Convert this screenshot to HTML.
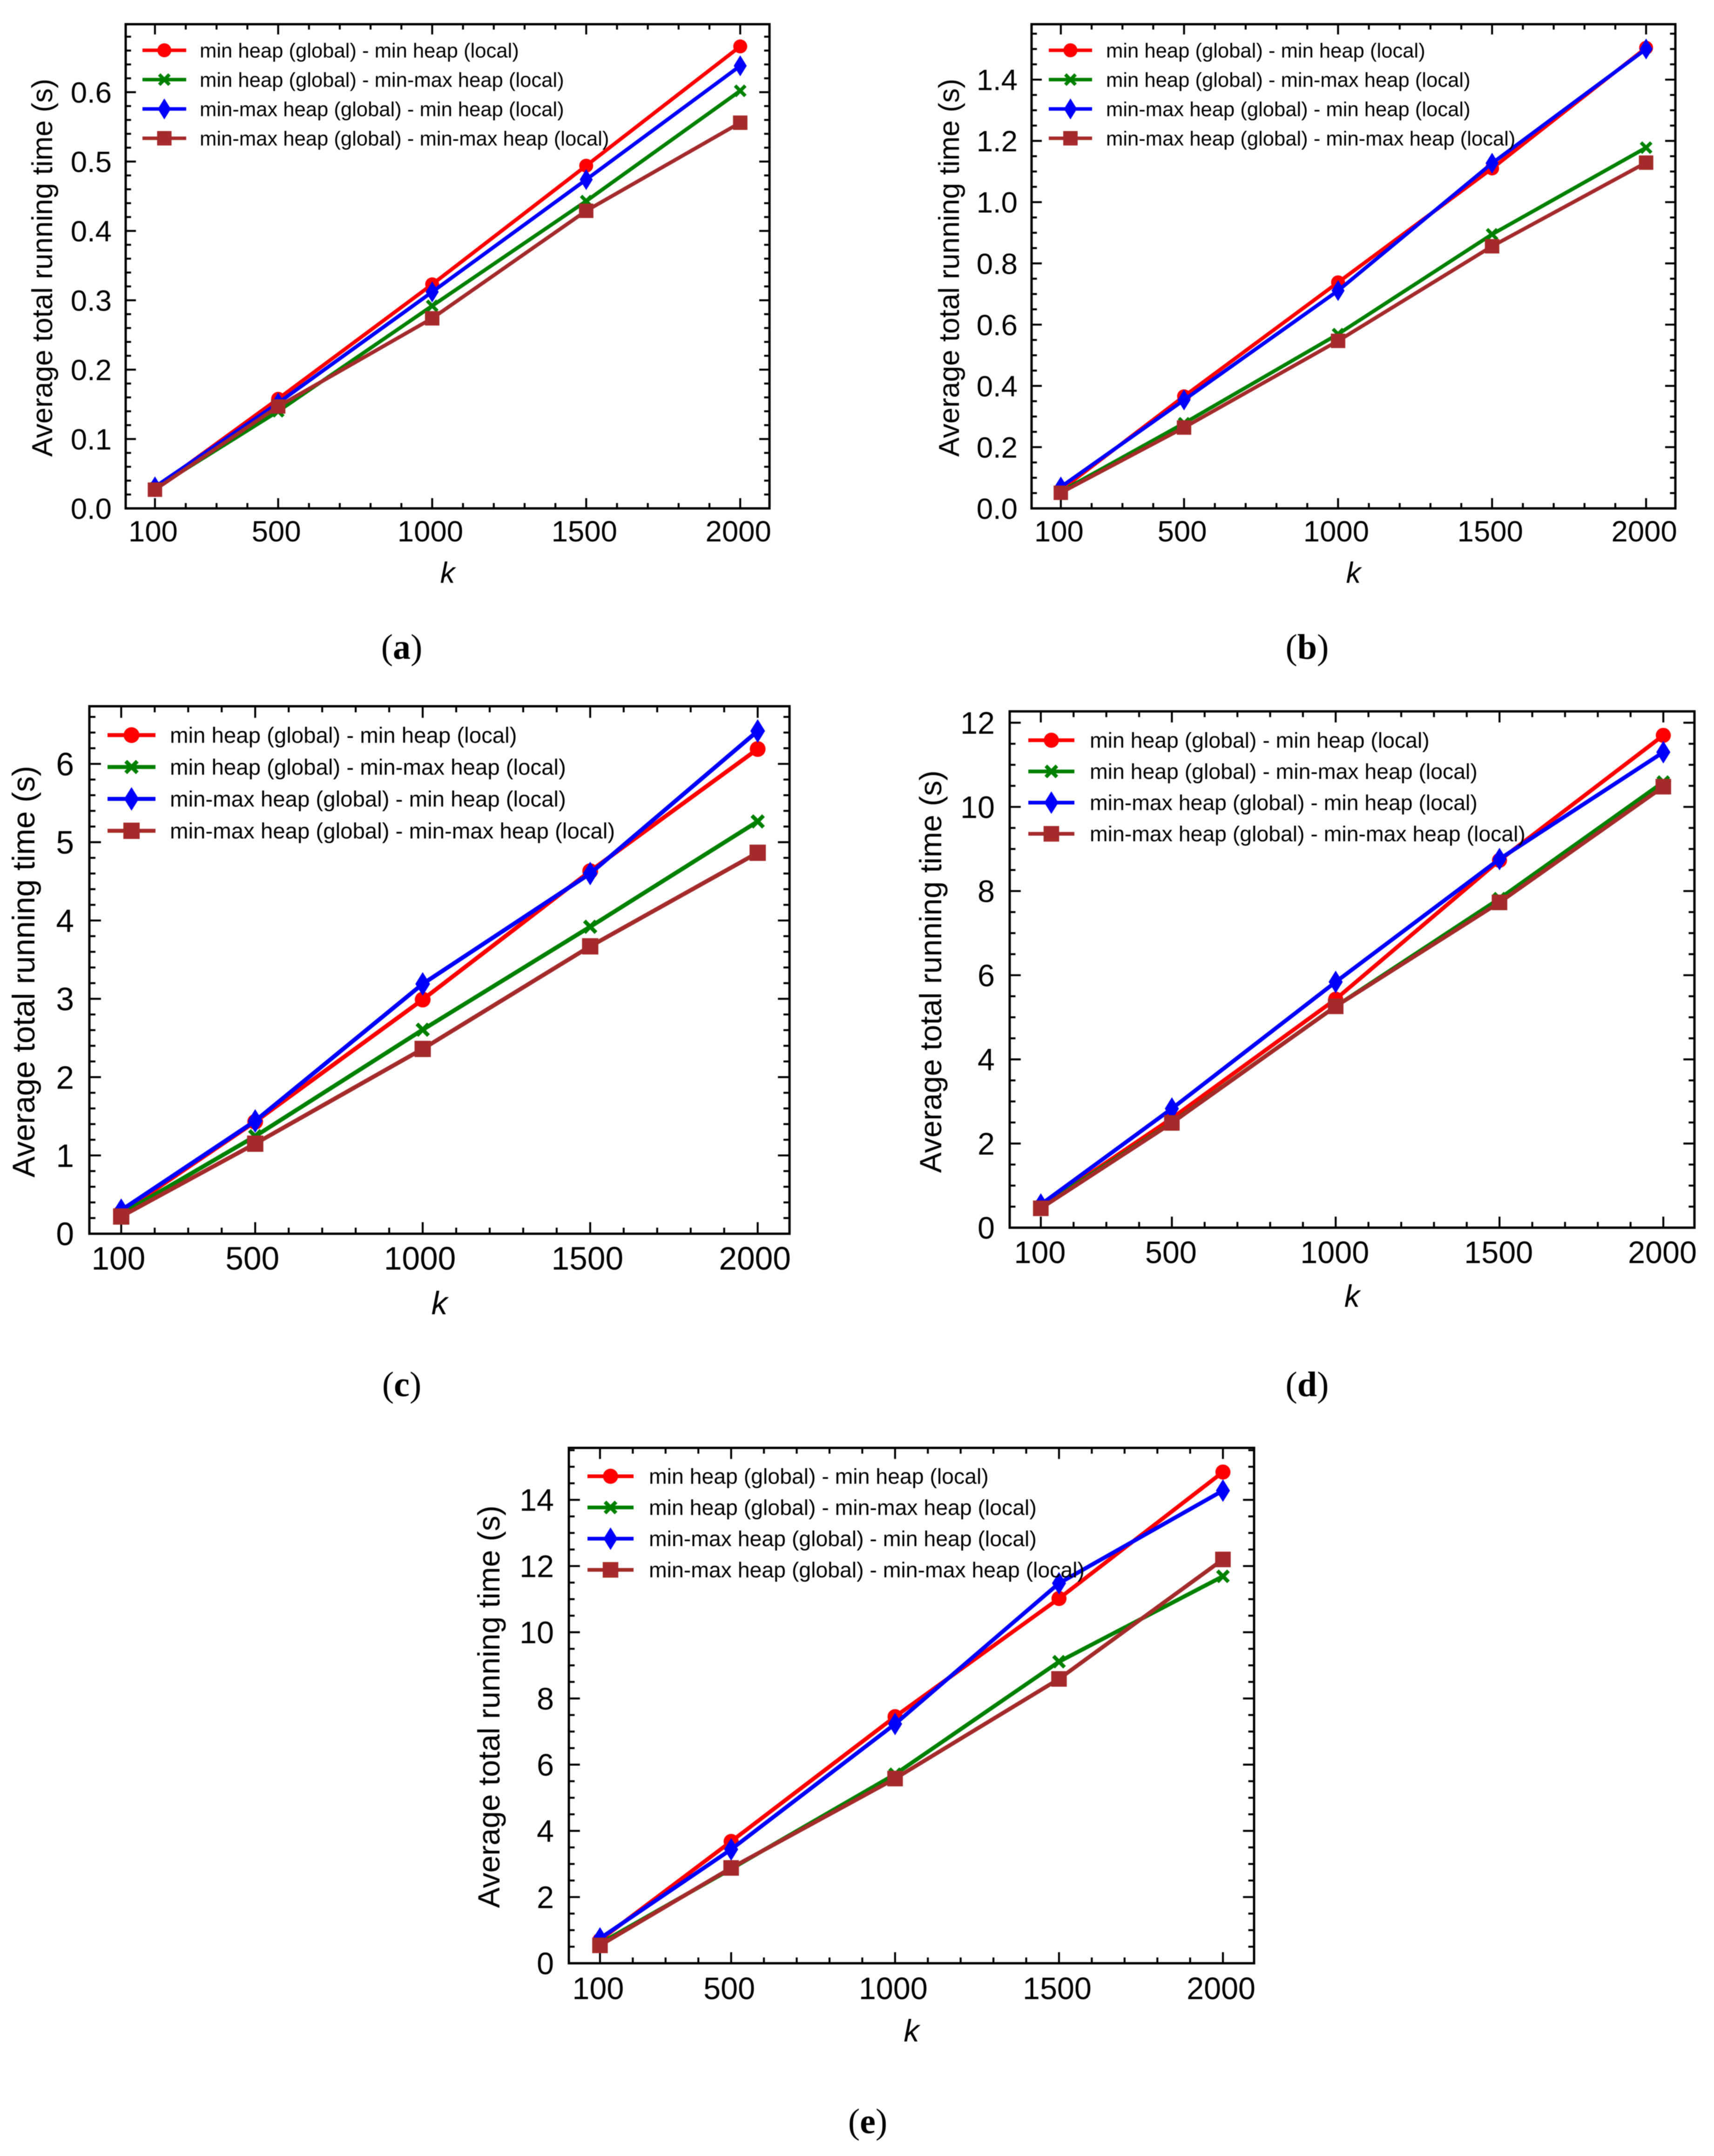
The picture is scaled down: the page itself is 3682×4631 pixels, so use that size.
<!DOCTYPE html>
<html lang="en">
<head>
<meta charset="utf-8">
<title>Average total running time versus k</title>
<style>
html,body{margin:0;padding:0;background:#fff;}
#figure{display:block;width:3682px;height:4631px;background:#fff;font-family:"Liberation Sans",sans-serif;filter:blur(0.9px);}
</style>
</head>
<body>
<svg id="figure" xmlns="http://www.w3.org/2000/svg" width="3682" height="4631" viewBox="0 0 3682 4631"></svg>
<script>
const kCategories = [100, 500, 1000, 1500, 2000];
const xTickLabels = ['100', '500', '1000', '1500', '2000'];
const seriesLabels = [
  'min heap (global) - min heap (local)',
  'min heap (global) - min-max heap (local)',
  'min-max heap (global) - min heap (local)',
  'min-max heap (global) - min-max heap (local)'
];

const panelAMinMin = [0.029, 0.158, 0.323, 0.494, 0.666];
const panelAMinMinmax = [0.029, 0.140, 0.292, 0.443, 0.602];
const panelAMinmaxMin = [0.031, 0.152, 0.312, 0.474, 0.638];
const panelAMinmaxMinmax = [0.027, 0.147, 0.274, 0.429, 0.556];
const panelAYTicks = ['0.0', '0.1', '0.2', '0.3', '0.4', '0.5', '0.6'];

const panelBMinMin = [0.060, 0.366, 0.738, 1.110, 1.504];
const panelBMinMinmax = [0.055, 0.278, 0.569, 0.895, 1.178];
const panelBMinmaxMin = [0.070, 0.354, 0.711, 1.127, 1.500];
const panelBMinmaxMinmax = [0.051, 0.264, 0.547, 0.856, 1.129];
const panelBYTicks = ['0.0', '0.2', '0.4', '0.6', '0.8', '1.0', '1.2', '1.4'];

const panelCMinMin = [0.27, 1.43, 2.99, 4.63, 6.19];
const panelCMinMinmax = [0.25, 1.245, 2.605, 3.92, 5.265];
const panelCMinmaxMin = [0.30, 1.44, 3.19, 4.60, 6.42];
const panelCMinmaxMinmax = [0.22, 1.15, 2.36, 3.67, 4.865];
const panelCYTicks = ['0', '1', '2', '3', '4', '5', '6'];

const panelDMinMin = [0.50, 2.60, 5.43, 8.73, 11.70];
const panelDMinMinmax = [0.50, 2.50, 5.26, 7.82, 10.59];
const panelDMinmaxMin = [0.55, 2.83, 5.84, 8.76, 11.30];
const panelDMinmaxMinmax = [0.46, 2.49, 5.26, 7.73, 10.48];
const panelDYTicks = ['0', '2', '4', '6', '8', '10', '12'];

const panelEMinMin = [0.70, 3.68, 7.45, 11.02, 14.84];
const panelEMinMinmax = [0.60, 2.85, 5.71, 9.11, 11.69];
const panelEMinmaxMin = [0.75, 3.44, 7.23, 11.48, 14.28];
const panelEMinmaxMinmax = [0.54, 2.88, 5.58, 8.59, 12.20];
const panelEYTicks = ['0', '2', '4', '6', '8', '10', '12', '14'];

const seriesColors = ['#ff0000', '#008000', '#0000ff', '#a52a2a'];
const seriesMarkers = ['circle', 'x', 'diamond', 'square'];

const panels = [
  {id: 'a', left: 270, right: 1653, top: 52, bottom: 1092, yMax: 0.698, yStep: 0.1, yMinor: 0.02,
   yTicks: panelAYTicks, series: [panelAMinMin, panelAMinMinmax, panelAMinmaxMin, panelAMinmaxMinmax],
   tickFont: 63.5, titleFont: 62, titleX: 112, titleY: 575, xLabelOffset: 71, xLabelShift: -4, kY: 1252, tickPad: 30,
   legendFont: 43.6, legendX1: 306, legendX2: 400, legendTextX: 429, legendY: 108, legendStep: 63,
   scale: 1, captionX: 863, captionY: 1415},
  {id: 'b', left: 2216, right: 3599, top: 52, bottom: 1092, yMax: 1.581, yStep: 0.2, yMinor: 0.05,
   yTicks: panelBYTicks, series: [panelBMinMin, panelBMinMinmax, panelBMinmaxMin, panelBMinmaxMinmax],
   tickFont: 63.5, titleFont: 62, titleX: 2060, titleY: 575, xLabelOffset: 71, xLabelShift: -4, kY: 1252, tickPad: 30,
   legendFont: 43.6, legendX1: 2253, legendX2: 2346, legendTextX: 2376, legendY: 108, legendStep: 63,
   scale: 1, captionX: 2808, captionY: 1415},
  {id: 'c', left: 192, right: 1696, top: 1517, bottom: 2650, yMax: 6.736, yStep: 1, yMinor: 0.2,
   yTicks: panelCYTicks, series: [panelCMinMin, panelCMinMinmax, panelCMinmaxMin, panelCMinmaxMinmax],
   tickFont: 69.5, titleFont: 67.5, titleX: 74, titleY: 2087, xLabelOffset: 77, xLabelShift: -6, kY: 2823, tickPad: 33,
   legendFont: 47.4, legendX1: 231, legendX2: 334, legendTextX: 365, legendY: 1579, legendStep: 68.5,
   scale: 1.13, captionX: 863, captionY: 2999},
  {id: 'd', left: 2169, right: 3640, top: 1528, bottom: 2637, yMax: 12.27, yStep: 2, yMinor: 0.5,
   yTicks: panelDYTicks, series: [panelDMinMin, panelDMinMinmax, panelDMinmaxMin, panelDMinmaxMinmax],
   tickFont: 66.5, titleFont: 66, titleX: 2022, titleY: 2087, xLabelOffset: 76, xLabelShift: -2, kY: 2807, tickPad: 32,
   legendFont: 46.4, legendX1: 2209, legendX2: 2308, legendTextX: 2341, legendY: 1590, legendStep: 67,
   scale: 1.08, captionX: 2808, captionY: 2999},
  {id: 'e', left: 1222, right: 2694, top: 3110, bottom: 4217, yMax: 15.57, yStep: 2, yMinor: 0.5,
   yTicks: panelEYTicks, series: [panelEMinMin, panelEMinMinmax, panelEMinmaxMin, panelEMinmaxMinmax],
   tickFont: 66.5, titleFont: 66, titleX: 1073, titleY: 3666, xLabelOffset: 77, xLabelShift: -4, kY: 4385, tickPad: 32,
   legendFont: 46.4, legendX1: 1262, legendX2: 1361, legendTextX: 1394, legendY: 3171, legendStep: 67,
   scale: 1.08, captionX: 1864, captionY: 4582}
];

const xDomainMin = 5;
const xDomainMax = 2095;
const xMinorStep = 100;
const NS = 'http://www.w3.org/2000/svg';
const figure = document.getElementById('figure');

function make(tag, attrs, parent) {
  const node = document.createElementNS(NS, tag);
  for (const key in attrs) node.setAttribute(key, attrs[key]);
  parent.appendChild(node);
  return node;
}

function xAxis(p, k) {
  return p.left + (k - xDomainMin) * (p.right - p.left) / (xDomainMax - xDomainMin);
}

function yAxis(p, v) {
  return p.bottom - v * (p.bottom - p.top) / p.yMax;
}

function drawMarker(type, cx, cy, color, s, parent) {
  let el;
  if (type === 'circle') {
    el = make('circle', {cx: cx, cy: cy, r: 15 * s, fill: color}, parent);
    
    
  } else if (type === 'square') {
    const h = 15.5 * s;
    el = make('rect', {x: cx - h, y: cy - h, width: 2 * h, height: 2 * h, fill: color}, parent);
    
    
  } else if (type === 'diamond') {
    const w = 14 * s, h = 22.5 * s;
    el = make('polygon', {points: [cx, cy - h, cx + w, cy, cx, cy + h, cx - w, cy].join(' '), fill: color}, parent);
    
    
  } else {
    const h = 11 * s;
    const d = ['M', cx - h, cy - h, 'L', cx + h, cy + h, 'M', cx - h, cy + h, 'L', cx + h, cy - h].join(' ');
    el = make('path', {d: d, stroke: color, 'stroke-width': 7.5 * s, fill: 'none'}, parent);
    
    
  }
}

function drawTickPair(p, group, isX, pos, len) {
  const w = 4.2;
  const coords = isX
    ? [[pos, p.bottom, pos, p.bottom - len], [pos, p.top, pos, p.top + len]]
    : [[p.left, pos, p.left + len, pos], [p.right, pos, p.right - len, pos]];
  coords.forEach(function (c) {
    const t = make('line', {x1: c[0], y1: c[1], x2: c[2], y2: c[3], stroke: '#000', 'stroke-width': w}, group);
    
    
  });
}

panels.forEach(function (p) {
  const panel = make('g', {}, figure);
  
  

  const ticks = make('g', {}, panel);
  
  

  const majorLen = 22 * p.scale;
  const minorLen = 11.5 * p.scale;

  for (let k = 100; k <= 2000; k += xMinorStep) {
    const isMajor = kCategories.indexOf(k) >= 0;
    drawTickPair(p, ticks, true, xAxis(p, k), isMajor ? majorLen : minorLen);
  }
  const minorCount = Math.floor(p.yMax / p.yMinor + 1e-6);
  const perMajor = Math.round(p.yStep / p.yMinor);
  for (let i = 0; i <= minorCount; i++) {
    drawTickPair(p, ticks, false, yAxis(p, i * p.yMinor), i % perMajor === 0 ? majorLen : minorLen);
  }

  kCategories.forEach(function (k, i) {
    const t = make('text', {x: xAxis(p, k) + p.xLabelShift, y: p.bottom + p.xLabelOffset, 'text-anchor': 'middle', 'font-size': p.tickFont, fill: '#000'}, panel);
    t.textContent = xTickLabels[i];
    
    
  });

  p.yTicks.forEach(function (label) {
    const y = yAxis(p, parseFloat(label)) + 0.355 * p.tickFont;
    const t = make('text', {x: p.left - p.tickPad, y: y, 'text-anchor': 'end', 'font-size': p.tickFont, fill: '#000'}, panel);
    t.textContent = label;
    
    
  });

  const yTitle = make('text', {x: p.titleX, y: p.titleY, 'text-anchor': 'middle', 'font-size': p.titleFont, fill: '#000',
    transform: 'rotate(-90 ' + p.titleX + ' ' + p.titleY + ')'}, panel);
  yTitle.textContent = 'Average total running time (s)';
  
  

  const xTitle = make('text', {x: (p.left + p.right) / 2, y: p.kY, 'text-anchor': 'middle', 'font-size': p.tickFont, 'font-style': 'italic', fill: '#000'}, panel);
  xTitle.textContent = 'k';
  
  

  p.series.forEach(function (values, s) {
    const g = make('g', {}, panel);
    
    
    const pts = values.map(function (v, i) {
      return xAxis(p, kCategories[i]) + ',' + yAxis(p, v);
    }).join(' ');
    const line = make('polyline', {points: pts, fill: 'none', stroke: seriesColors[s], 'stroke-width': 8 * p.scale, 'stroke-linejoin': 'round'}, g);
    
    
    values.forEach(function (v, i) {
      drawMarker(seriesMarkers[s], xAxis(p, kCategories[i]), yAxis(p, v), seriesColors[s], p.scale, g);
    });
  });

  const frame = make('rect', {x: p.left, y: p.top, width: p.right - p.left, height: p.bottom - p.top, fill: 'none', stroke: '#000', 'stroke-width': 5}, panel);
  
  

  const legend = make('g', {}, panel);
  
  
  seriesLabels.forEach(function (label, s) {
    const y = p.legendY + s * p.legendStep;
    const entry = make('g', {}, legend);
    
    
    const swatch = make('line', {x1: p.legendX1, y1: y, x2: p.legendX2, y2: y, stroke: seriesColors[s], 'stroke-width': 7.5 * p.scale}, entry);
    
    
    drawMarker(seriesMarkers[s], (p.legendX1 + p.legendX2) / 2, y, seriesColors[s], p.scale, entry);
    const t = make('text', {x: p.legendTextX, y: y + 0.35 * p.legendFont, 'font-size': p.legendFont, fill: '#000'}, entry);
    t.textContent = label;
    
    
  });

  const caption = make('text', {x: p.captionX, y: p.captionY, 'text-anchor': 'middle', 'font-size': 76, fill: '#000', 'font-family': '"Liberation Serif", serif'}, panel);
  
  
  const open = make('tspan', {}, caption);
  open.textContent = '(';
  const letter = make('tspan', {'font-weight': 'bold'}, caption);
  letter.textContent = p.id;
  const close = make('tspan', {}, caption);
  close.textContent = ')';
});
</script>
</body>
</html>
